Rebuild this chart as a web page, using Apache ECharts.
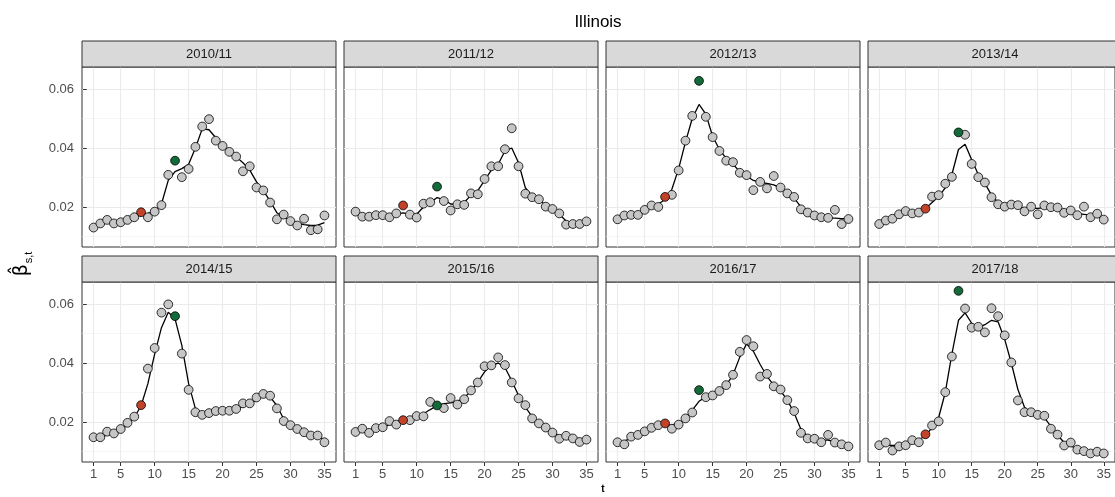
<!DOCTYPE html>
<html>
<head>
<meta charset="utf-8">
<script src="https://cdn.jsdelivr.net/npm/echarts@6/dist/echarts.min.js"></script>
<style>html,body{margin:0;padding:0;background:#fff}#c{width:1115px;height:497px}</style>
</head>
<body>
<div id="c"></div>
<script>
// ---------------- data ----------------
const seasons = ['2010/11','2011/12','2012/13','2013/14','2014/15','2015/16','2016/17','2017/18'];
const tValues = [1,2,3,4,5,6,7,8,9,10,11,12,13,14,15,16,17,18,19,20,21,22,23,24,25,26,27,28,29,30,31,32,33,34,35];
const xBreaks = [1,5,10,15,20,25,30,35];
const yBreaks = [0.02,0.04,0.06];
const yMinorBreaks = [0.01,0.03,0.05];
const redT = 8;
const greenT = 13;

const obs2010 = [0.0130,0.0144,0.0156,0.0144,0.0148,0.0156,0.0165,0.0182,0.0165,0.0184,0.0206,0.0309,0.0357,0.0301,0.0329,0.0404,0.0473,0.0498,0.0425,0.0407,0.0387,0.0371,0.0321,0.0338,0.0266,0.0256,0.0215,0.0158,0.0174,0.0152,0.0137,0.0160,0.0121,0.0124,0.0171];
const fit2010 = [0.0130,0.0142,0.0150,0.0150,0.0152,0.0158,0.0166,0.0175,0.0178,0.0185,0.0210,0.0290,0.0320,0.0330,0.0345,0.0400,0.0465,0.0462,0.0435,0.0410,0.0390,0.0370,0.0350,0.0325,0.0285,0.0255,0.0220,0.0180,0.0165,0.0155,0.0145,0.0140,0.0137,0.0138,0.0147];

const obs2011 = [0.0184,0.0167,0.0167,0.0172,0.0172,0.0165,0.0178,0.0205,0.0174,0.0164,0.0211,0.0216,0.0269,0.0220,0.0188,0.0209,0.0207,0.0246,0.0243,0.0295,0.0338,0.0338,0.0396,0.0467,0.0338,0.0245,0.0233,0.0226,0.0201,0.0193,0.0178,0.0140,0.0142,0.0142,0.0151];
const fit2011 = [0.0180,0.0175,0.0171,0.0170,0.0170,0.0170,0.0175,0.0180,0.0175,0.0175,0.0200,0.0213,0.0232,0.0225,0.0210,0.0208,0.0215,0.0240,0.0255,0.0290,0.0325,0.0345,0.0390,0.0400,0.0350,0.0265,0.0237,0.0225,0.0205,0.0193,0.0175,0.0152,0.0145,0.0144,0.0150];

const obs2012 = [0.0158,0.0171,0.0173,0.0173,0.0190,0.0205,0.0200,0.0234,0.0241,0.0324,0.0425,0.0509,0.0628,0.0506,0.0437,0.0390,0.0357,0.0352,0.0316,0.0308,0.0257,0.0285,0.0263,0.0305,0.0266,0.0246,0.0234,0.0192,0.0181,0.0171,0.0165,0.0163,0.0190,0.0142,0.0159];
const fit2012 = [0.0158,0.0168,0.0172,0.0175,0.0188,0.0200,0.0210,0.0225,0.0260,0.0330,0.0420,0.0500,0.0548,0.0515,0.0440,0.0395,0.0365,0.0345,0.0320,0.0305,0.0290,0.0283,0.0280,0.0275,0.0265,0.0250,0.0230,0.0200,0.0185,0.0175,0.0168,0.0163,0.0162,0.0160,0.0160];

const obs2013 = [0.0142,0.0154,0.0160,0.0175,0.0186,0.0178,0.0181,0.0194,0.0235,0.0240,0.0279,0.0302,0.0453,0.0445,0.0346,0.0301,0.0283,0.0233,0.0209,0.0201,0.0208,0.0206,0.0185,0.0201,0.0175,0.0205,0.0199,0.0198,0.0180,0.0188,0.0172,0.0201,0.0165,0.0177,0.0157];
const fit2013 = [0.0142,0.0152,0.0162,0.0172,0.0180,0.0183,0.0185,0.0195,0.0215,0.0235,0.0265,0.0310,0.0395,0.0413,0.0360,0.0310,0.0280,0.0240,0.0215,0.0205,0.0203,0.0200,0.0195,0.0195,0.0195,0.0198,0.0197,0.0193,0.0188,0.0183,0.0178,0.0175,0.0172,0.0168,0.0162];

const obs2014 = [0.0148,0.0148,0.0167,0.0161,0.0176,0.0197,0.0218,0.0257,0.0381,0.0451,0.0571,0.0599,0.0559,0.0432,0.0309,0.0233,0.0224,0.0230,0.0237,0.0238,0.0238,0.0244,0.0263,0.0263,0.0283,0.0295,0.0289,0.0246,0.0203,0.0189,0.0176,0.0165,0.0154,0.0154,0.0131];
const fit2014 = [0.0148,0.0150,0.0155,0.0162,0.0173,0.0190,0.0215,0.0255,0.0330,0.0430,0.0520,0.0572,0.0550,0.0460,0.0330,0.0245,0.0230,0.0230,0.0233,0.0236,0.0238,0.0243,0.0252,0.0262,0.0275,0.0288,0.0285,0.0255,0.0210,0.0190,0.0178,0.0167,0.0158,0.0150,0.0140];

const obs2015 = [0.0166,0.0177,0.0163,0.0179,0.0182,0.0203,0.0191,0.0206,0.0206,0.0220,0.0219,0.0268,0.0256,0.0247,0.0281,0.0259,0.0277,0.0307,0.0334,0.0389,0.0392,0.0419,0.0393,0.0334,0.0280,0.0257,0.0212,0.0195,0.0181,0.0164,0.0143,0.0153,0.0144,0.0132,0.0140];
const fit2015 = [0.0166,0.0170,0.0173,0.0177,0.0183,0.0190,0.0195,0.0202,0.0210,0.0218,0.0228,0.0242,0.0255,0.0262,0.0265,0.0270,0.0282,0.0305,0.0335,0.0370,0.0392,0.0400,0.0385,0.0340,0.0290,0.0250,0.0218,0.0197,0.0180,0.0165,0.0153,0.0148,0.0142,0.0140,0.0140];

const obs2016 = [0.0131,0.0124,0.0150,0.0156,0.0168,0.0180,0.0189,0.0195,0.0177,0.0191,0.0212,0.0232,0.0308,0.0284,0.0290,0.0305,0.0325,0.0360,0.0438,0.0478,0.0457,0.0354,0.0363,0.0321,0.0310,0.0274,0.0237,0.0163,0.0144,0.0143,0.0131,0.0156,0.0130,0.0124,0.0117];
const fit2016 = [0.0130,0.0135,0.0145,0.0155,0.0165,0.0175,0.0183,0.0188,0.0190,0.0195,0.0210,0.0240,0.0270,0.0285,0.0292,0.0303,0.0325,0.0360,0.0420,0.0465,0.0440,0.0395,0.0355,0.0325,0.0305,0.0275,0.0230,0.0175,0.0150,0.0140,0.0138,0.0138,0.0132,0.0125,0.0120];

const obs2017 = [0.0121,0.0130,0.0103,0.0117,0.0121,0.0138,0.0131,0.0158,0.0188,0.0202,0.0301,0.0422,0.0645,0.0585,0.0520,0.0523,0.0504,0.0586,0.0559,0.0494,0.0402,0.0273,0.0233,0.0233,0.0224,0.0221,0.0177,0.0157,0.0120,0.0130,0.0106,0.0101,0.0093,0.0099,0.0093];
const fit2017 = [0.0122,0.0122,0.0120,0.0120,0.0123,0.0130,0.0138,0.0155,0.0180,0.0215,0.0300,0.0430,0.0545,0.0570,0.0535,0.0520,0.0530,0.0545,0.0540,0.0480,0.0400,0.0310,0.0250,0.0232,0.0224,0.0215,0.0185,0.0155,0.0130,0.0118,0.0110,0.0103,0.0097,0.0095,0.0094];

const observed = [obs2010,obs2011,obs2012,obs2013,obs2014,obs2015,obs2016,obs2017];
const fitted = [fit2010,fit2011,fit2012,fit2013,fit2014,fit2015,fit2016,fit2017];

// ---------------- layout / style ----------------
const FONT = '"Liberation Sans", Arial, Helvetica, sans-serif';
const colLeft = [82, 344, 606, 868];
const panelW = 254;
const rowTop = [67, 282];
const panelH = 180;
const stripH = 26;
const yMin = 0.0064, yMax = 0.0675;
const xMin = -0.7, xMax = 36.7;

const grids = [], xAxes = [], yAxes = [], series = [], graphics = [];

seasons.forEach((s, i) => {
  const row = Math.floor(i / 4), col = i % 4;
  const left = colLeft[col], top = rowTop[row];
  const bottomRow = row === 1, leftCol = col === 0;
  grids.push({left: left, top: top, width: panelW, height: panelH, show: true,
    backgroundColor: '#fff', borderColor: '#333333', borderWidth: 1, containLabel: false});
  xAxes.push({type: 'value', gridIndex: i, min: xMin, max: xMax,
    axisLine: {show: false},
    axisTick: {show: bottomRow, customValues: xBreaks, length: 4, lineStyle: {color: '#333333', width: 1}},
    axisLabel: {show: bottomRow, customValues: xBreaks, margin: 6, color: '#4D4D4D', fontSize: 13, fontFamily: FONT},
    splitLine: {show: true, lineStyle: {color: '#EBEBEB', width: 1.1}}
  });
  yAxes.push({type: 'value', gridIndex: i, min: yMin, max: yMax,
    axisLine: {show: false},
    axisTick: {show: leftCol, customValues: yBreaks, length: 4, lineStyle: {color: '#333333', width: 1}},
    axisLabel: {show: leftCol, customValues: yBreaks, margin: 8, color: '#4D4D4D', fontSize: 13, fontFamily: FONT,
      formatter: v => v.toFixed(2)},
    splitLine: {show: true, lineStyle: {color: '#EBEBEB', width: 1.1}}
  });
  yAxes.push({type: 'value', gridIndex: i, min: yMin, max: yMax,
    axisLine: {show: false},
    axisTick: {show: false, customValues: yMinorBreaks},
    axisLabel: {show: false, customValues: yMinorBreaks},
    splitLine: {show: true, lineStyle: {color: '#EFEFEF', width: 0.6}}
  });
  const yi = i * 2;
  const obs = observed[i], fit = fitted[i];
  series.push({type: 'line', xAxisIndex: i, yAxisIndex: yi, data: tValues.map((t, k) => [t, fit[k]]),
    symbol: 'none', smooth: false, lineStyle: {color: '#000', width: 1.3}, z: 2, silent: true, animation: false});
  series.push({type: 'scatter', xAxisIndex: i, yAxisIndex: yi,
    data: tValues.map((t, k) => [t, obs[k]]).filter(d => d[0] !== redT && d[0] !== greenT),
    symbolSize: 8.8, itemStyle: {color: '#C6C6C6', borderColor: '#000', borderWidth: 0.8, opacity: 1}, z: 3, animation: false});
  series.push({type: 'scatter', xAxisIndex: i, yAxisIndex: yi,
    data: [[redT, obs[tValues.indexOf(redT)]]],
    symbolSize: 8.8, itemStyle: {color: '#C0432A', borderColor: '#000', borderWidth: 0.8, opacity: 1}, z: 4, animation: false});
  series.push({type: 'scatter', xAxisIndex: i, yAxisIndex: yi,
    data: [[greenT, obs[tValues.indexOf(greenT)]]],
    symbolSize: 8.8, itemStyle: {color: '#146B3A', borderColor: '#000', borderWidth: 0.8, opacity: 1}, z: 4, animation: false});
  // strip
  graphics.push({type: 'rect', shape: {x: left, y: top - stripH, width: panelW, height: stripH},
    style: {fill: '#D9D9D9', stroke: '#333333', lineWidth: 1}, z: 10});
  graphics.push({type: 'text', x: left + panelW / 2, y: top - stripH / 2,
    style: {text: s, align: 'center', verticalAlign: 'middle', fill: '#1A1A1A', font: '13px ' + FONT}, z: 11});
});

graphics.push({type: 'text', x: 598, y: 22,
  style: {text: 'Illinois', align: 'center', verticalAlign: 'middle', fill: '#000', font: '17px ' + FONT}});
graphics.push({type: 'text', x: 603, y: 489,
  style: {text: 't', align: 'center', verticalAlign: 'middle', fill: '#000', font: 'bold 10px ' + FONT}});
graphics.push({type: 'text', x: 22, y: 264, rotation: Math.PI / 2,
  style: {text: '{b|β̂}{s|s,t}', align: 'center', verticalAlign: 'middle',
    rich: {b: {fontSize: 19, fontFamily: '"DejaVu Sans", sans-serif', fill: '#000', lineHeight: 24, verticalAlign: 'middle'},
           s: {fontSize: 11, fontFamily: FONT, fill: '#000', lineHeight: 24, verticalAlign: 'bottom', padding: [10, 0, 0, 1]}}}});

const chart = echarts.init(document.getElementById('c'), null, {renderer: 'canvas'});
chart.setOption({
  animation: false,
  backgroundColor: '#fff',
  grid: grids, xAxis: xAxes, yAxis: yAxes, series: series, graphic: graphics
});
</script>
</body>
</html>
